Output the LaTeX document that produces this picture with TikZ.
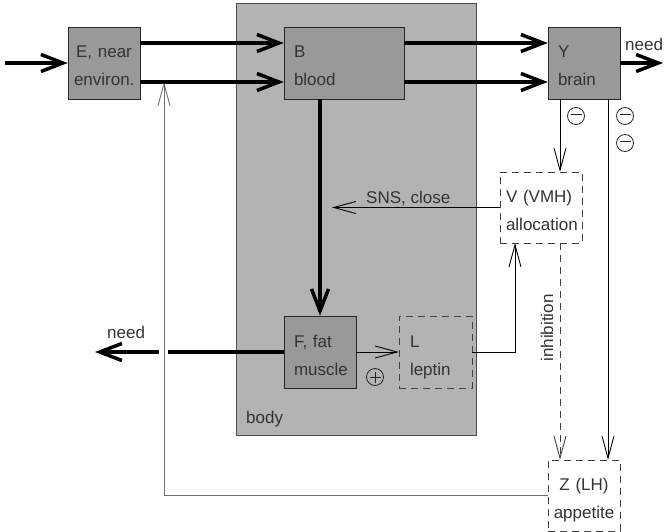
\documentclass[tikz,border=0pt]{standalone}
\usepackage{fontspec}
\setmainfont{Liberation Sans}
\usetikzlibrary{arrows.meta}
\definecolor{cBody}{HTML}{B3B3B3}
\definecolor{cBox}{HTML}{999999}
\definecolor{cText}{HTML}{333333}
\definecolor{cLine}{HTML}{6E6E6E}
\newcommand{\lbl}{\fontsize{17pt}{28pt}\selectfont}
\tikzset{
  blk/.style ={draw=black!85, fill=cBox, minimum height=72pt, inner ysep=0pt, inner xsep=10pt,
               text width=52pt, align=left, text height=18pt, text depth=28pt,
               font=\lbl, text=cText},
  dblk/.style={blk, fill=none, draw=black!75, dash pattern=on 7pt off 5pt},
  tline/.style={line width=3.5pt},
  tarrow/.style={tline, -{Straight Barb[length=22pt,width=17pt]}},
  arrow/.style={-{Straight Barb[length=22pt,width=12pt]}, line width=0.9pt},
  darrow/.style={arrow, draw=black!75, dash pattern=on 7pt off 5pt},
  txt/.style={font=\lbl, text=cText, inner sep=0pt},
  sgn/.style={draw=black!85, circle, line width=0.8pt, minimum size=17pt, inner sep=0pt},
}
\newcommand{\minussign}{\tikz[baseline=-3pt]\draw[line width=0.9pt, black!85] (-5.5pt,0) -- (5.5pt,0);}
\newcommand{\plussign}{\tikz[baseline=-3pt]\draw[line width=0.9pt, black!85] (-5.5pt,0) -- (5.5pt,0) (0,-5.5pt) -- (0,5.5pt);}

\begin{document}
\begin{tikzpicture}[x=1pt, y=-1pt]
  \useasboundingbox (0,0) rectangle (664,532);
  % body
  \draw[draw=black!70, fill=cBody] (236,3) rectangle (476,435);
  \node[txt, anchor=base west] (body) at (246,423) {body};
  % blocks
  \node[blk, align=center, inner xsep=6pt, text width=60pt] (E) at (104,63) {E, near\\environ.};
  \node[blk, text width=100pt] (B) at (344,63) {B\\blood};
  \node[blk] (Y) at (584,63) {Y\\brain};
  \node[blk] (F) at (320,352) {F, fat\\muscle};
  \node[dblk, inner xsep=11pt, text width=51pt] (L) at (435.5,352) {L\\leptin};
  \node[dblk, inner xsep=6pt, text width=70pt, minimum height=71pt] (V) at (541,207.5) {V (VMH)\\allocation};
  \node[dblk, align=center, inner xsep=5pt, text width=62pt, minimum height=71pt] (Z) at (584,495.5) {Z (LH)\\appetite};
  % free ends
  \coordinate (in) at (5,63);
  \coordinate (needR) at (663,63);
  \coordinate (gapR) at (168,352);
  \coordinate (gapL) at (159,352);
  \coordinate (needL) at (95,352);
  \coordinate (sns) at (332,207.5);
  \coordinate (envtip) at (164,82);
  % thick flows
  \draw[tarrow] (in) -- (E.west);
  \draw[tarrow] ([yshift=20pt]E.east) -- ([yshift=20pt]B.west);
  \draw[tarrow] ([yshift=-19pt]E.east) -- ([yshift=-19pt]B.west);
  \draw[tarrow] ([yshift=20pt]B.east) -- ([yshift=20pt]Y.west);
  \draw[tarrow] ([yshift=-19pt]B.east) -- ([yshift=-19pt]Y.west);
  \draw[tarrow] (Y.east) -- (needR);
  \node[txt, anchor=base west] (needRl) at (625,51) {need};
  \draw[tarrow] (B.south -| F.north) -- (F.north);
  \draw[tline] (F.west) -- (gapR);
  \draw[tarrow] (gapL) -- (needL);
  \node[txt, anchor=base west] (needLl) at (107,338) {need};
  % signals
  \draw[arrow] (F.east) -- (L.west);
  \node[sgn] (plus) at (375,377) {\plussign};
  \draw[arrow] (L.east) -| ([xshift=-26pt]V.south);
  \draw[arrow] (V.west) -- (sns);
  \node[txt, anchor=base west] (snsl) at (366,203) {SNS, close};
  \draw[arrow] ([xshift=-24pt]Y.south) -- ([xshift=-24pt]Y.south |- V.north);
  \node[sgn] (m1) at (576,116) {\minussign};
  \draw[arrow] ([xshift=24pt]Y.south) -- ([xshift=24pt]Z.north);
  \node[sgn] (m2) at (625,116) {\minussign};
  \node[sgn] (m3) at (625,143) {\minussign};
  \draw[darrow] ([xshift=19pt]V.south) -- ([xshift=-24pt]Z.north);
  \node[txt, rotate=90] (inh) at (547,328) {inhibition};
  \draw[arrow, draw=cLine] (Z.west) -| (envtip);
\end{tikzpicture}
\end{document}
